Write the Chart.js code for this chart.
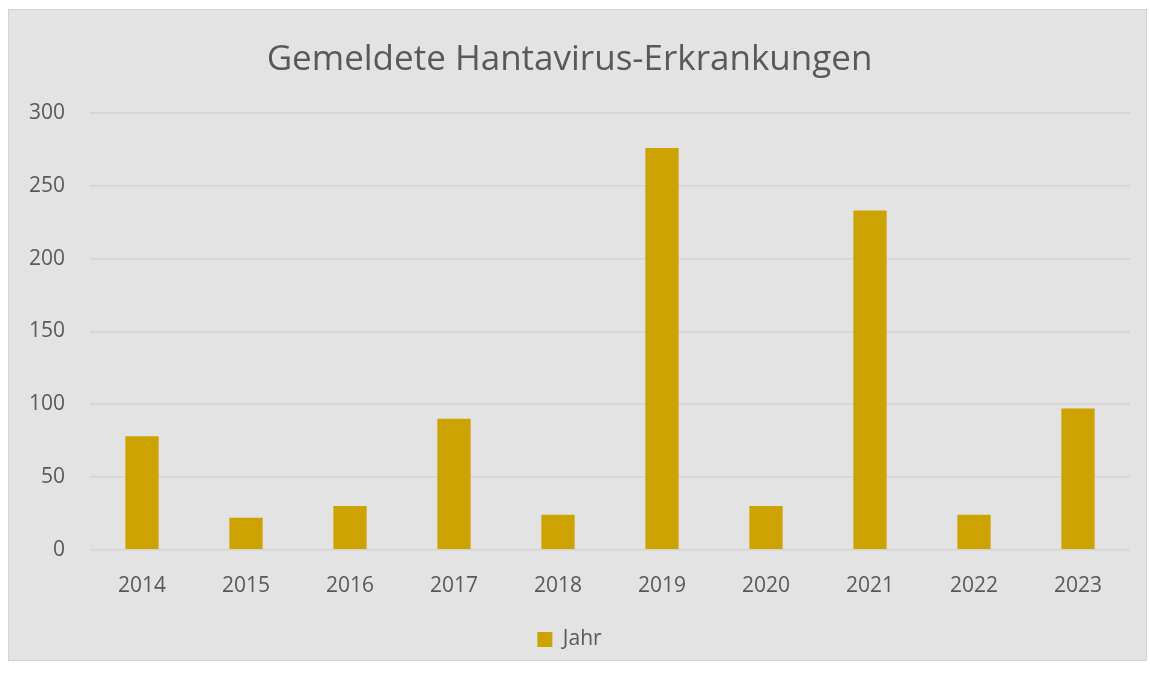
<!DOCTYPE html>
<html>
<head>
<meta charset="utf-8">
<script src="https://cdn.jsdelivr.net/npm/chart.js@4"></script>
<style>
  body { margin: 0; background: #ffffff; }
  #wrap {
    position: absolute; left: 8px; top: 9px; width: 1137px; height: 650px;
    background: #e3e3e3; border: 1px solid #d4d4d4;
  }
  canvas { display: block; }
</style>
</head>
<body>
<div id="wrap"><canvas id="chart" width="1137" height="650"></canvas></div>
<script>
// 연도 / 값
const years = ['2014', '2015', '2016', '2017', '2018', '2019', '2020', '2021', '2022', '2023'];
const cases = [78, 22, 30, 90, 24, 276, 30, 233, 24, 97];
const seriesLabel = 'Jahr';
const titleText = 'Gemeldete Hantavirus-Erkrankungen';

const BAR_COLOR = '#cca300';
const TEXT_COLOR = '#595959';
const FONT = "'Open Sans', 'Noto Sans', sans-serif";

new Chart(document.getElementById('chart'), {
    type: 'bar',
    data: {
        labels: years,
        datasets: [{
            label: seriesLabel,
            data: cases,
            backgroundColor: BAR_COLOR,
            borderWidth: 0,
            categoryPercentage: 1,
            barPercentage: 0.32
        }]
    },
    options: {
        responsive: false,
        animation: false,
        layout: { padding: { left: 0, right: 16, top: 29, bottom: 0 } },
        plugins: {
            title: {
                display: true,
                text: titleText,
                color: TEXT_COLOR,
                font: { family: FONT, size: 35, weight: 'normal' },
                padding: { top: 0, bottom: 32 }
            },
            legend: {
                position: 'bottom',
                labels: {
                    color: TEXT_COLOR,
                    font: { family: FONT, size: 21 },
                    boxWidth: 15,
                    boxHeight: 15,
                    padding: 14
                }
            },
            tooltip: { enabled: false }
        },
        scales: {
            x: {
                grid: { display: false },
                border: { display: false },
                ticks: {
                    color: TEXT_COLOR,
                    font: { family: FONT, size: 21 },
                    padding: 16
                }
            },
            y: {
                min: 0,
                max: 300,
                afterFit: (scale) => { scale.width = 81; },
                grid: { color: '#d4d4d4', lineWidth: 1.5, drawTicks: false },
                border: { display: false },
                ticks: {
                    stepSize: 50,
                    color: TEXT_COLOR,
                    font: { family: FONT, size: 21 },
                    padding: 25
                }
            }
        }
    }
});
</script>
</body>
</html>
